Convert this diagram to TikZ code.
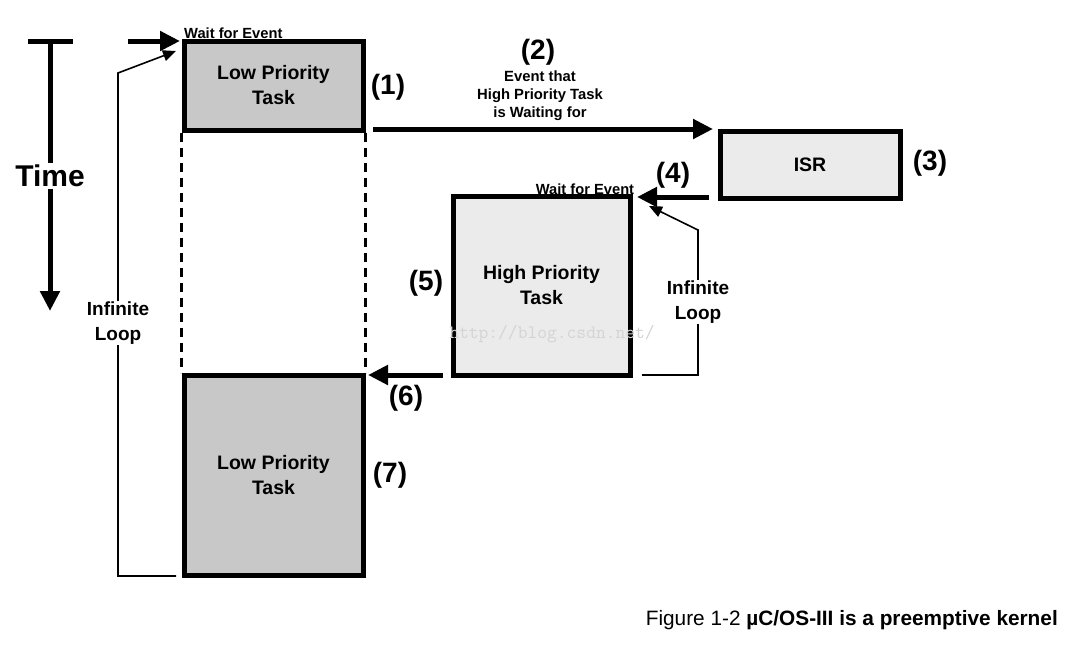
\documentclass[tikz,border=0pt]{standalone}
\usepackage{fontspec}
\setmainfont{Liberation Sans}
\usetikzlibrary{arrows.meta}
\definecolor{lowgray}{HTML}{C8C8C8}
\definecolor{highgray}{HTML}{EBEBEB}
\definecolor{wmgray}{HTML}{D4D4D4}
\begin{document}
\begin{tikzpicture}[x=1pt,y=-1pt,
  taskbox/.style={draw=black,line width=5pt,inner sep=0pt,align=center,font=\bfseries\fontsize{19.5}{25}\selectfont},
  num/.style={font=\bfseries\fontsize{28}{30}\selectfont,inner sep=0pt},
  small/.style={font=\bfseries\fontsize{14.7}{16}\selectfont,inner sep=0pt},
  lbl/.style={font=\bfseries\fontsize{19}{25}\selectfont,align=center,inner sep=1pt},
  bigarrow/.style={line width=5pt,-{Triangle[length=20pt,width=19pt]}},
  looparrow/.style={line width=1.6pt,-{Triangle[length=13pt,width=11pt]}},
  dashline/.style={line width=3.5pt,dash pattern=on 9pt off 6pt}]
\useasboundingbox (0,0) rectangle (1087,649);
% Time axis
\coordinate (tl) at (28,41);
\coordinate (tr) at (73,41);
\coordinate (tt) at (50,41);
\coordinate (tb) at (50,311);
\draw[line width=5pt] (tl) -- (tr);
\draw[line width=5pt,-{Triangle[length=20pt,width=19pt]}] (tt) -- (tb);
\node[font=\bfseries\fontsize{30}{32}\selectfont,fill=white,inner sep=2pt] (time) at (50,176) {Time};
% boxes
\node[taskbox,fill=lowgray,minimum width=179pt,minimum height=89pt] (low1) at (273.5,85.5) {Low Priority\\Task};
\node[taskbox,fill=lowgray,minimum width=179pt,minimum height=200pt] (low2) at (273.5,475) {Low Priority\\Task};
\node[taskbox,fill=highgray,minimum width=180pt,minimum height=67pt] (isr) at (810,164.5) {ISR};
\node[taskbox,fill=highgray,minimum width=177pt,minimum height=179pt] (high) at (541.5,285.5) {High Priority\\Task};
% dashed
\draw[dashline] (low1.south west) -- (low2.north west);
\draw[dashline] (low1.south east) -- (low2.north east);
% wait for event arrow 1
\coordinate (w1s) at (128,41);
\coordinate (w1e) at (180,41);
\draw[bigarrow] (w1s) -- (w1e);
\node[small,anchor=base west] (wait1) at (184,38) {Wait for Event};
% left infinite loop
\coordinate (l1a) at (176,576);
\coordinate (l1b) at (118,576);
\coordinate (l1c) at (118,73);
\coordinate (l1d) at (176,51);
\draw[looparrow] (l1a) -- (l1b) -- (l1c) -- (l1d);
\node[lbl,fill=white] (inf1) at (118,323) {Infinite\\Loop};
% event arrow
\coordinate (e1s) at (373,129);
\coordinate (e1e) at (713,129);
\draw[bigarrow] (e1s) -- (e1e);
\node[num] (n1) at (388,87) {(1)};
\node[num] (n2) at (538,52) {(2)};
\node[font=\bfseries\fontsize{14.8}{18}\selectfont,align=center,inner sep=0pt] (evt) at (540,96) {Event that\\High Priority Task\\is Waiting for};
\node[num] (n3) at (930,163) {(3)};
% ISR -> high
\coordinate (i2s) at (709,197);
\coordinate (i2e) at (637,197);
\draw[bigarrow] (i2s) -- (i2e);
\node[num] (n4) at (673,175) {(4)};
\node[small,anchor=base] (wait2) at (585,194) {Wait for Event};
\node[num] (n5) at (426,283) {(5)};
% right loop
\coordinate (r1a) at (642,375);
\coordinate (r1b) at (698,375);
\coordinate (r1c) at (698,230);
\coordinate (r1d) at (649,206);
\draw[looparrow] (r1a) -- (r1b) -- (r1c) -- (r1d);
\node[lbl,fill=white] (inf2) at (698,302) {Infinite\\Loop};
% high -> low2
\coordinate (h2s) at (443,375);
\coordinate (h2e) at (368,375);
\draw[bigarrow] (h2s) -- (h2e);
\node[num] (n6) at (406,398) {(6)};
\node[num] (n7) at (390,475) {(7)};
% watermark
\node[font=\ttfamily\fontsize{19}{20}\selectfont,text=wmgray,inner sep=0pt] (wm) at (552,334) {http://blog.csdn.net/};
% caption
\node[anchor=base east,inner sep=0pt,font=\fontsize{20.8}{24}\selectfont] (cap) at (1058,625) {Figure 1-2 \textbf{µC/OS-III is a preemptive kernel}};
\end{tikzpicture}
\end{document}
